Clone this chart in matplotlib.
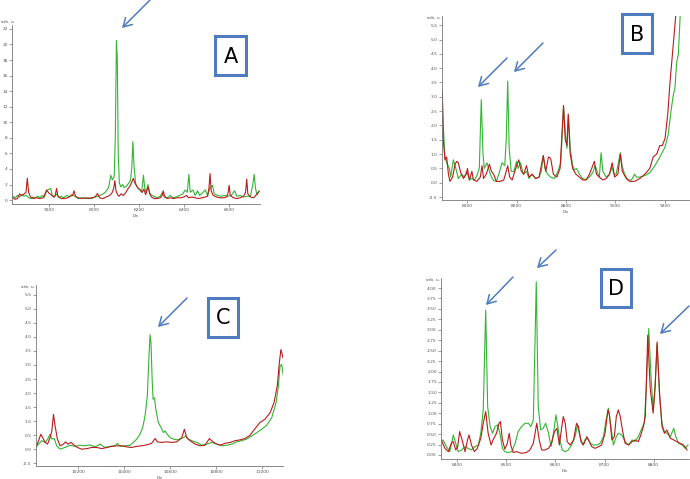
import numpy as np
import matplotlib
matplotlib.use("Agg")
import matplotlib.pyplot as plt
from matplotlib.patches import Rectangle, FancyArrowPatch
from matplotlib.ticker import MultipleLocator, FormatStrFormatter

# ---------------- panel A ----------------
a_green_x = [5640, 5650, 5660, 5670, 5680, 5690, 5700, 5710, 5720, 5730, 5740, 5750, 5760, 5770, 5780, 5790,
             5800, 5808, 5815, 5825, 5835, 5845, 5855, 5865, 5880, 5890, 5900, 5910, 5920, 5930, 5945, 5960,
             5975, 5990, 6005, 6020, 6035, 6050, 6065, 6075, 6082, 6090, 6095, 6100, 6104, 6108, 6113, 6120,
             6128, 6135, 6145, 6155, 6162, 6168, 6173, 6178, 6185, 6195, 6205, 6212, 6220, 6226, 6232, 6240,
             6248, 6258, 6268, 6280, 6295, 6305, 6312, 6325, 6340, 6350, 6365, 6380, 6395, 6405, 6415, 6422,
             6428, 6440, 6450, 6460, 6470, 6485, 6495, 6505, 6515, 6527, 6535, 6550, 6565, 6580, 6595, 6610,
             6625, 6635, 6650, 6665, 6680, 6695, 6705, 6712, 6718, 6725, 6735]
a_green_y = [0.5, 0.3, 0.6, 0.4, 0.7, 0.5, 0.6, 0.3, 0.2, 0.4, 0.3, 0.5, 0.3, 0.6, 0.4, 1.2,
             1.4, 1.5, 0.6, 0.4, 0.8, 0.3, 0.5, 0.3, 0.6, 0.4, 0.7, 0.6, 0.4, 0.2, 0.3, 0.2,
             0.3, 0.2, 0.4, 0.5, 0.7, 1.0, 1.6, 3.2, 2.6, 3.0, 8.0, 20.5, 18.0, 6.0, 2.2, 1.7,
             2.0, 1.6, 1.8, 2.2, 2.5, 4.0, 7.5, 4.5, 2.2, 1.5, 1.3, 1.0, 3.2, 1.5, 1.0, 2.0,
             0.9, 0.6, 0.5, 0.3, 0.5, 1.0, 0.4, 0.3, 0.6, 0.3, 0.4, 0.6, 0.8, 1.3, 1.0, 3.3,
             1.0, 1.3, 0.6, 1.2, 0.6, 1.0, 1.3, 0.6, 1.5, 1.9, 0.8, 0.6, 0.5, 0.6, 0.5, 0.6,
             1.2, 0.5, 0.6, 0.4, 0.5, 0.5, 1.8, 3.3, 1.5, 0.7, 1.2]
a_red_x = [5640, 5650, 5660, 5670, 5680, 5690, 5698, 5704, 5710, 5718, 5730, 5745, 5760, 5775, 5790, 5800,
           5810, 5820, 5828, 5834, 5840, 5855, 5870, 5885, 5895, 5905, 5912, 5918, 5930, 5945, 5960, 5975,
           5990, 6005, 6016, 6025, 6040, 6055, 6070, 6080, 6088, 6093, 6098, 6105, 6112, 6120, 6130, 6140,
           6150, 6160, 6168, 6175, 6182, 6190, 6198, 6206, 6215, 6222, 6230, 6236, 6241, 6248, 6256, 6268,
           6280, 6295, 6303, 6308, 6314, 6325, 6340, 6355, 6370, 6385, 6400, 6412, 6420, 6435, 6450, 6465,
           6480, 6495, 6505, 6511, 6516, 6521, 6530, 6545, 6560, 6575, 6590, 6596, 6601, 6606, 6620, 6635,
           6650, 6665, 6674, 6679, 6684, 6695, 6710, 6722, 6733]
a_red_y = [0.3, 0.1, 0.2, 0.8, 0.6, 0.8, 1.0, 2.8, 1.0, 0.4, 0.2, 0.3, 0.2, 0.3, 1.3, 0.9,
           0.7, 0.4, 0.6, 1.5, 0.5, 0.2, 0.2, 0.3, 0.5, 0.6, 1.2, 0.5, 0.3, 0.2, 0.3, 0.2,
           0.3, 0.4, 0.85, 0.3, 0.2, 0.4, 0.6, 0.9, 1.5, 2.5, 1.2, 0.7, 0.5, 0.8, 0.6, 0.9,
           1.4, 1.8, 2.3, 2.8, 2.2, 1.8, 1.5, 1.3, 1.0, 1.4, 0.7, 1.3, 1.7, 0.8, 0.4, 0.2,
           0.2, 0.3, 0.6, 1.2, 0.5, 0.2, 0.3, 0.2, 0.3, 0.3, 0.4, 0.6, 0.3, 0.4, 0.3, 0.2,
           0.3, 0.4, 0.5, 1.5, 3.4, 1.2, 0.6, 0.4, 0.3, 0.3, 0.4, 0.9, 1.9, 0.6, 0.3, 0.2,
           0.3, 0.5, 1.0, 2.7, 0.8, 0.4, 0.3, 0.7, 1.1]

# ---------------- panel B ----------------
b_green_x = [8299, 8303, 8310, 8317, 8328, 8333, 8344, 8354, 8364, 8378, 8388, 8398, 8409, 8419, 8430, 8439,
             8449, 8457, 8464, 8469, 8480, 8490, 8498, 8507, 8518, 8528, 8541, 8552, 8558, 8564, 8570, 8578,
             8589, 8600, 8606, 8616, 8627, 8640, 8650, 8663, 8677, 8691, 8700, 8708, 8715, 8725, 8738, 8752,
             8765, 8779, 8790, 8797, 8804, 8810, 8817, 8827, 8833, 8843, 8854, 8867, 8881, 8895, 8908, 8918,
             8926, 8935, 8942, 8949, 8963, 8976, 8986, 8994, 9003, 9020, 9027, 9037, 9051, 9065, 9078, 9085,
             9099, 9119, 9139, 9160, 9180, 9201, 9214, 9225, 9235, 9241, 9248, 9255, 9262]
b_green_y = [3.2, 2.0, 0.9, 0.7, 0.5, 0.2, 0.8, 0.5, 0.15, 0.3, 0.2, 0.4, 0.1, 0.15, 0.1, 0.25,
             0.5, 2.9, 1.0, 0.5, 0.7, 0.4, 0.2, 0.08, 0.05, 0.3, 0.7, 0.6, 1.5, 3.55, 1.2, 0.4,
             0.4, 0.75, 0.5, 0.7, 0.3, 0.4, 0.15, 0.3, 0.15, 0.2, 0.4, 0.95, 0.5, 0.3, 0.2, 0.15,
             0.35, 0.7, 2.65, 1.8, 1.2, 2.35, 1.2, 0.6, 0.45, 0.5, 0.3, 0.15, 0.1, 0.2, 0.35, 0.6,
             0.4, 0.2, 1.05, 0.4, 0.2, 0.3, 0.55, 0.3, 0.3, 1.05, 0.6, 0.3, 0.1, 0.1, 0.3, 0.2,
             0.2, 0.25, 0.35, 0.6, 0.9, 1.25, 1.7, 2.5, 3.1, 3.3, 4.2, 4.5, 5.8]
b_red_x = [8299, 8303, 8310, 8317, 8324, 8330, 8341, 8351, 8358, 8364, 8374, 8385, 8396, 8401, 8409, 8419,
           8425, 8439, 8453, 8460, 8466, 8477, 8490, 8498, 8507, 8518, 8534, 8548, 8558, 8564, 8572, 8582,
           8600, 8609, 8619, 8629, 8640, 8650, 8663, 8677, 8691, 8708, 8718, 8729, 8738, 8749, 8763, 8776,
           8790, 8797, 8804, 8809, 8817, 8827, 8840, 8854, 8867, 8881, 8895, 8915, 8923, 8935, 8949, 8963,
           8976, 8987, 8997, 9010, 9020, 9028, 9044, 9058, 9078, 9099, 9119, 9139, 9153, 9167, 9180, 9190,
           9201, 9212, 9221, 9231, 9239, 9245]
b_red_y = [3.2, 1.5, 0.8, 0.9, 0.3, 0.05, 0.2, 0.65, 0.75, 0.7, 0.35, 0.15, 0.3, 0.5, 0.1, 0.4,
           0.1, 0.05, 0.2, 0.6, 0.15, 0.3, 0.65, 0.4, 0.3, 0.05, 0.05, 0.1, 0.4, 0.6, 0.2, 0.1,
           0.6, 0.8, 0.4, 0.3, 0.6, 0.2, 0.3, 0.15, 0.2, 0.95, 0.4, 0.9, 0.85, 0.3, 0.2, 0.5,
           2.7, 1.5, 1.3, 2.4, 1.0, 0.5, 0.3, 0.2, 0.1, 0.1, 0.3, 0.75, 0.3, 0.2, 0.1, 0.15,
           0.3, 0.7, 0.2, 0.3, 1.0, 0.4, 0.15, 0.05, 0.05, 0.15, 0.3, 0.5, 0.9, 1.0, 1.3, 1.3,
           1.55, 2.4, 3.5, 4.5, 5.3, 5.9]

# ---------------- panel C ----------------
c_green_x = [10016, 10028, 10042, 10057, 10068, 10078, 10086, 10096, 10107, 10122, 10143, 10165, 10187, 10209,
             10230, 10252, 10274, 10296, 10317, 10339, 10361, 10371, 10383, 10404, 10426, 10440, 10455, 10469,
             10481, 10491, 10501, 10509, 10513, 10517, 10522, 10526, 10532, 10538, 10549, 10561, 10571, 10578,
             10588, 10600, 10614, 10629, 10643, 10658, 10668, 10680, 10694, 10716, 10738, 10759, 10781, 10803,
             10825, 10846, 10868, 10890, 10911, 10933, 10955, 10977, 10998, 11020, 11042, 11061, 11071, 11078,
             11085, 11093]
c_green_y = [0.06, 0.18, 0.3, 0.24, 0.36, 0.53, 0.36, 0.38, 0.12, 0.0, 0.06, 0.14, 0.1, 0.14,
             0.12, 0.15, 0.08, 0.18, 0.06, 0.1, 0.12, 0.21, 0.1, 0.12, 0.14, 0.24, 0.36, 0.53,
             0.77, 1.18, 1.89, 3.43, 4.08, 3.79, 2.49, 1.78, 1.83, 1.42, 0.95, 0.77, 0.59, 0.65,
             0.53, 0.41, 0.36, 0.33, 0.36, 0.41, 0.47, 0.36, 0.3, 0.24, 0.14, 0.18, 0.24, 0.18,
             0.12, 0.14, 0.18, 0.26, 0.3, 0.36, 0.47, 0.59, 0.71, 0.85, 1.12, 1.66, 2.25, 2.96,
             3.02, 2.6]
c_red_x = [10016, 10028, 10038, 10046, 10057, 10067, 10078, 10086, 10093, 10100, 10110, 10122, 10136, 10146,
           10155, 10170, 10183, 10197, 10216, 10238, 10259, 10281, 10303, 10325, 10346, 10368, 10390, 10412,
           10433, 10455, 10477, 10498, 10520, 10535, 10545, 10564, 10585, 10607, 10629, 10651, 10662, 10672,
           10687, 10709, 10730, 10752, 10771, 10781, 10796, 10817, 10839, 10861, 10882, 10904, 10926, 10948,
           10969, 10991, 11013, 11035, 11052, 11066, 11075, 11082, 11093]
c_red_y = [0.06, 0.3, 0.53, 0.41, 0.24, 0.18, 0.41, 0.65, 1.24, 0.83, 0.36, 0.12, 0.18, 0.26,
           0.18, 0.24, 0.14, 0.06, 0.0, 0.02, 0.06, 0.06, 0.02, 0.06, 0.1, 0.12, 0.12, 0.08,
           0.06, 0.1, 0.12, 0.15, 0.21, 0.38, 0.26, 0.24, 0.26, 0.24, 0.26, 0.41, 0.71, 0.41,
           0.3, 0.18, 0.12, 0.14, 0.38, 0.3, 0.21, 0.14, 0.21, 0.24, 0.3, 0.33, 0.38, 0.5,
           0.73, 0.95, 1.07, 1.3, 1.66, 2.25, 3.08, 3.55, 3.2]

# ---------------- panel D ----------------
d_green_x = [8365, 8371, 8378, 8385, 8392, 8397, 8402, 8409, 8416, 8422, 8429, 8436, 8443, 8448, 8453, 8458,
             8462, 8467, 8472, 8477, 8482, 8487, 8492, 8497, 8504, 8511, 8518, 8524, 8531, 8538, 8545, 8550,
             8555, 8561, 8565, 8570, 8575, 8580, 8586, 8591, 8596, 8601, 8605, 8609, 8614, 8620, 8626, 8633,
             8640, 8645, 8650, 8656, 8660, 8666, 8671, 8677, 8684, 8691, 8698, 8703, 8708, 8713, 8718, 8724,
             8728, 8735, 8742, 8749, 8756, 8762, 8769, 8776, 8781, 8785, 8790, 8795, 8799, 8803, 8807, 8812,
             8817, 8822, 8827, 8834, 8841, 8845, 8851, 8858, 8864, 8870]
d_green_y = [0.32, 0.36, 0.2, 0.08, 0.48, 0.28, 0.08, 0.12, 0.2, 0.16, 0.12, 0.2, 0.24, 0.52, 1.08, 3.47,
             1.16, 0.68, 0.52, 0.68, 0.72, 0.52, 0.16, 0.08, 0.06, 0.08, 0.28, 0.56, 0.68, 0.76, 0.76, 0.68,
             0.84, 4.15, 1.16, 0.6, 0.64, 0.76, 0.52, 0.2, 0.52, 0.96, 0.68, 0.36, 0.12, 0.08, 0.12, 0.24,
             0.44, 0.72, 0.44, 0.24, 0.36, 0.4, 0.28, 0.24, 0.24, 0.28, 0.44, 0.84, 1.12, 0.68, 0.24, 0.44,
             0.52, 0.48, 0.32, 0.24, 0.36, 0.32, 0.44, 0.64, 0.76, 1.6, 3.03, 1.8, 1.08, 1.7, 2.65, 1.4,
             0.76, 0.56, 0.52, 0.44, 0.64, 0.44, 0.28, 0.24, 0.16, 0.24]
d_red_x = [8365, 8369, 8375, 8382, 8388, 8392, 8397, 8401, 8405, 8410, 8416, 8421, 8424, 8429, 8435, 8441,
           8448, 8453, 8458, 8463, 8469, 8473, 8480, 8485, 8488, 8492, 8497, 8502, 8506, 8509, 8514, 8521,
           8531, 8541, 8548, 8555, 8562, 8567, 8572, 8579, 8586, 8592, 8598, 8603, 8608, 8613, 8616, 8620,
           8624, 8630, 8637, 8643, 8647, 8652, 8657, 8664, 8669, 8674, 8681, 8688, 8694, 8701, 8707, 8710,
           8715, 8720, 8724, 8728, 8732, 8737, 8742, 8749, 8756, 8762, 8769, 8775, 8779, 8783, 8788, 8793,
           8799, 8803, 8807, 8812, 8817, 8822, 8827, 8834, 8841, 8847, 8854, 8861, 8868]
d_red_y = [0.36, 0.32, 0.16, 0.08, 0.28, 0.32, 0.12, 0.2, 0.56, 0.36, 0.08, 0.36, 0.48, 0.24, 0.08, 0.16,
           0.4, 0.76, 1.04, 0.52, 0.24, 0.36, 0.52, 0.76, 0.8, 0.36, 0.14, 0.28, 0.52, 0.24, 0.06, 0.08,
           0.04, 0.06, 0.12, 0.28, 0.76, 0.36, 0.12, 0.12, 0.16, 0.28, 0.56, 0.64, 0.24, 0.68, 0.92, 0.76,
           0.32, 0.24, 0.36, 0.76, 0.68, 0.32, 0.24, 0.44, 0.32, 0.2, 0.16, 0.2, 0.24, 0.52, 1.08, 0.96,
           0.36, 0.44, 0.92, 1.08, 0.92, 0.56, 0.28, 0.24, 0.32, 0.36, 0.32, 0.52, 0.68, 0.92, 2.87, 1.6,
           1.0, 1.6, 2.71, 1.5, 0.68, 0.52, 0.6, 0.4, 0.36, 0.32, 0.28, 0.24, 0.12]

GREEN = "#33b533"
RED = "#b81c1c"
GREY = "#555555"
BLUE = "#4f7cbf"

fig = plt.figure(figsize=(6.9, 4.79), dpi=100)


def panel(rect, gx, gy, rx, ry, xlim, ylim, xticks, ystep, yfmt, unit_pos=(-0.005, 1.0, "right")):
    ax = fig.add_axes(rect)
    ax.plot(gx, gy, color=GREEN, lw=0.8)
    ax.plot(rx, ry, color=RED, lw=0.8)
    ax.set_xlim(*xlim)
    ax.set_ylim(*ylim)
    ax.set_xticks(xticks)
    ax.xaxis.set_minor_locator(MultipleLocator((xticks[1] - xticks[0]) / 5))
    ax.yaxis.set_major_locator(MultipleLocator(ystep))
    ax.yaxis.set_major_formatter(FormatStrFormatter(yfmt))
    for s in ("top", "right"):
        ax.spines[s].set_visible(False)
    for s in ("left", "bottom"):
        ax.spines[s].set_color("#777777")
        ax.spines[s].set_linewidth(0.6)
    ax.tick_params(labelsize=3.2, colors=GREY, length=2, width=0.4, pad=1)
    ax.tick_params(axis="x", pad=0.8)
    ax.tick_params(which="minor", length=1, width=0.3, colors=GREY)
    ux, uy, uha = unit_pos
    ax.text(ux, uy, "arb. u.", transform=ax.transAxes, fontsize=3.2,
            color=GREY, ha=uha, va="top")
    ax.text(0.5, -0.055, "Da", transform=ax.transAxes, fontsize=3.2,
            color=GREY, ha="center", va="top")
    return ax


W, H = 690.0, 479.0


def rect_px(left, top, right, bottom):
    return [left / W, 1 - bottom / H, (right - left) / W, (bottom - top) / H]


panel(rect_px(12, 25, 260, 204), a_green_x, a_green_y, a_red_x, a_red_y,
      (5636, 6738), (-0.5, 22.5), [5800, 6000, 6200, 6400, 6600], 2, "%d",
      unit_pos=(-0.046, 1.03, "left"))
panel(rect_px(442, 16, 690, 200), b_green_x, b_green_y, b_red_x, b_red_y,
      (8298, 9302), (-0.6, 5.82), [8400, 8600, 8800, 9000, 9200], 0.5, "%.1f")
panel(rect_px(36, 285, 283, 466), c_green_x, c_green_y, c_red_x, c_red_y,
      (10017, 11091), (-0.6, 5.85), [10200, 10400, 10600, 10800, 11000], 0.5, "%.1f")
panel(rect_px(441, 278, 689, 459), d_green_x, d_green_y, d_red_x, d_red_y,
      (8367, 8872), (-0.096, 4.24), [8400, 8500, 8600, 8700, 8800], 0.25, "%.2f")

# overlay for letter boxes and arrows, in pixel coordinates
ov = fig.add_axes([0, 0, 1, 1], zorder=10)
ov.set_xlim(0, W)
ov.set_ylim(H, 0)
ov.axis("off")
ov.patch.set_alpha(0)

boxes = [("A", 215, 36, 246, 75), ("B", 622, 14, 652, 53),
         ("C", 208, 298, 238, 337), ("D", 601, 269, 631, 307)]
for letter, x0, y0, x1, y1 in boxes:
    ov.add_patch(Rectangle((x0, y0), x1 - x0, y1 - y0, facecolor="white",
                           edgecolor=BLUE, lw=2.2))
    ov.text((x0 + x1) / 2, (y0 + y1) / 2 + 1, letter, fontsize=15, ha="center",
            va="center", color="black")

arrows = [((150, 0), (122, 28)), ((507, 58), (478, 87)), ((543, 43), (514, 72)),
          ((187, 298), (158, 327)), ((513, 277), (486, 305)), ((556, 250), (537, 268)),
          ((689, 306), (660, 334))]
for tail, head in arrows:
    ov.add_patch(FancyArrowPatch(tail, head, arrowstyle="->,head_length=6,head_width=3.5",
                                 color=BLUE, lw=1.1, shrinkA=0, shrinkB=0))

fig.savefig("out.png", dpi=100)
